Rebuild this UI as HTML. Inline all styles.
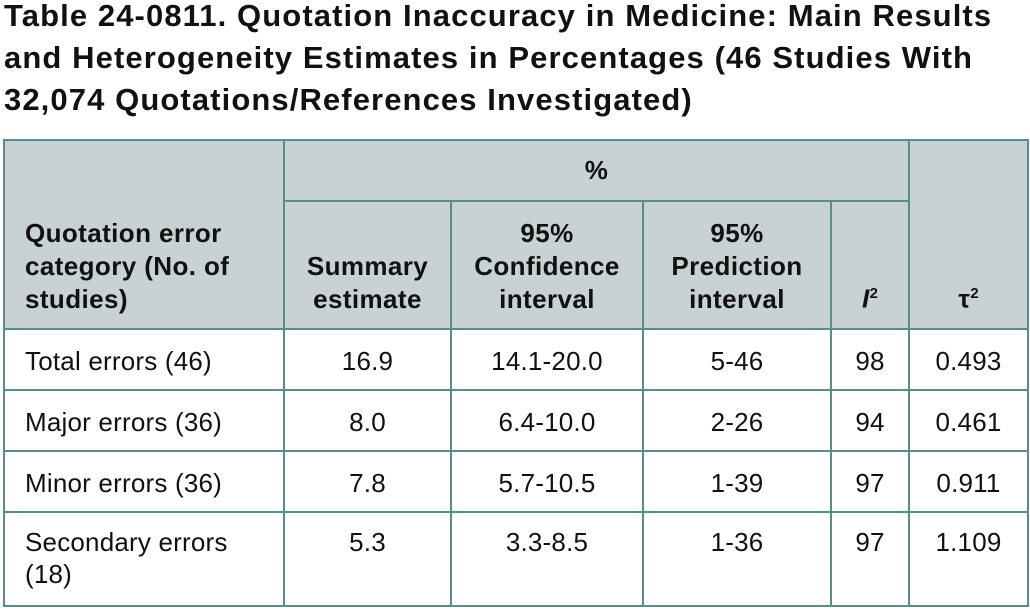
<!DOCTYPE html>
<html><head><style>
body{margin:0;width:1030px;height:609px;background:#fff;font-family:"Liberation Sans",Arial,sans-serif;position:relative;overflow:hidden}
.t{position:absolute;left:4px;top:-5px;font-weight:bold;font-size:31px;line-height:42px;color:#111;letter-spacing:1.1px;white-space:nowrap}
table{position:absolute;left:3px;top:139px;border-collapse:collapse;font-size:26px;color:#111;letter-spacing:0.2px}
td,th{border:2.5px solid #5b8b8a;padding:0}
th{background:#c8d2d3;font-weight:bold;line-height:33px;vertical-align:bottom;padding-bottom:12px;letter-spacing:0.4px}
td{text-align:center;vertical-align:top;padding-top:15px;line-height:32px}
td.l{text-align:left;padding-left:20px}
sup{font-size:15px;letter-spacing:0}
</style></head><body>
<div class="t">Table 24-0811. Quotation Inaccuracy in Medicine: Main Results<br>and Heterogeneity Estimates in Percentages (46 Studies With<br>32,074 Quotations/References Investigated)</div>
<table>
<colgroup><col style="width:280px"><col style="width:167px"><col style="width:192px"><col style="width:188px"><col style="width:78px"><col style="width:119px"></colgroup>
<tr style="height:61px"><th rowspan="2" style="text-align:left;padding-left:20px">Quotation error<br>category (No. of<br>studies)</th><th colspan="4" style="vertical-align:middle;padding:0">%</th><th rowspan="2">τ<sup>2</sup></th></tr>
<tr style="height:128px"><th>Summary<br>estimate</th><th>95%<br>Confidence<br>interval</th><th>95%<br>Prediction<br>interval</th><th><i>I</i><sup>2</sup></th></tr>
<tr style="height:61px"><td class="l">Total errors (46)</td><td>16.9</td><td>14.1-20.0</td><td>5-46</td><td>98</td><td>0.493</td></tr>
<tr style="height:61px"><td class="l">Major errors (36)</td><td>8.0</td><td>6.4-10.0</td><td>2-26</td><td>94</td><td>0.461</td></tr>
<tr style="height:61px"><td class="l">Minor errors (36)</td><td>7.8</td><td>5.7-10.5</td><td>1-39</td><td>97</td><td>0.911</td></tr>
<tr style="height:94px"><td class="l" style="padding-top:13px">Secondary errors<br>(18)</td><td style="padding-top:13px">5.3</td><td style="padding-top:13px">3.3-8.5</td><td style="padding-top:13px">1-36</td><td style="padding-top:13px">97</td><td style="padding-top:13px">1.109</td></tr>
</table>
</body></html>
